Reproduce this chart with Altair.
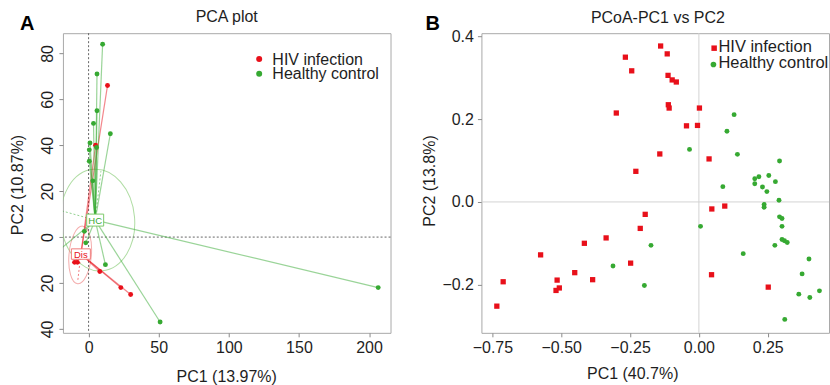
import altair as alt
import pandas as pd

FONT = "Liberation Sans"
RED = "#e8101a"
GREEN = "#36a932"
TXT = "#1e1e1e"
GROUPS = ["HIV infection", "Healthy control"]

# ---------------- Panel A : PCA plot ----------------
title_a = "PCA plot"
letter_a = "A"
xtitle_a = "PC1 (13.97%)"
ytitle_a = "PC2 (10.87%)"
a_xticks = [0, 50, 100, 150, 200]
a_yticks = [-40, -20, 0, 20, 40, 60, 80]

a_hiv_x = [13.5, 5.0, -8.0, -10.0, 8.0, 23.0, 30.0]
a_hiv_y = [66.0, 40.0, -11.0, -11.0, -15.0, -22.0, -25.0]
a_hc_x = [10.0, 6.0, 6.0, 3.5, 15.5, 1.0, 5.7, 0.5, 0.5, 3.0, -3.0, -2.0, 12.0, 51.0, 206.5, -25.0]
a_hc_y = [84.0, 71.0, 55.0, 49.5, 45.0, 41.0, 39.0, 38.0, 33.0, 24.5, 2.5, -2.5, -12.0, -37.0, -22.0, -7.7]

a_cent_label = ["Dis", "HC"]
a_cent_x = [-5.5, 4.7]
a_cent_y = [-7.4, 7.4]

a_ell_x = [-6.0, 6.5]
a_ell_y = [-7.8, 7.4]

a_axis_group = ["HIV infection", "Healthy control", "Healthy control"]
a_axis_x1 = [-5.5, -19.0, 4.7]
a_axis_y1 = [-7.4, 11.4, 7.4]
a_axis_x2 = [-7.8, 4.7, 8.8]
a_axis_y2 = [-19.5, 7.4, 28.7]

# ---------------- Panel B : PCoA ----------------
title_b = "PCoA-PC1 vs PC2"
letter_b = "B"
xtitle_b = "PC1 (40.7%)"
ytitle_b = "PC2 (13.8%)"
b_xticks = [-0.75, -0.5, -0.25, 0.0, 0.25]
b_yticks = [-0.2, 0.0, 0.2, 0.4]

b_hiv_x = [-0.734, -0.711, -0.575, -0.515, -0.519, -0.507, -0.451, -0.416, -0.386, -0.337,
           -0.300, -0.267, -0.244, -0.229, -0.213, -0.195, -0.248, -0.142, -0.139, -0.115,
           -0.112, -0.111, -0.108, -0.097, -0.082, -0.045, -0.005, 0.002, 0.037, 0.047,
           0.094, 0.046, 0.252]
b_hiv_y = [-0.252, -0.193, -0.128, -0.189, -0.214, -0.208, -0.171, -0.100, -0.188, -0.087,
           0.215, 0.350, 0.317, 0.074, -0.064, -0.030, -0.148, 0.116, 0.377, 0.358,
           0.306, 0.235, 0.227, 0.295, 0.290, 0.184, 0.185, 0.227, 0.104, -0.017,
           -0.010, -0.176, -0.206]
b_hc_x = [-0.312, -0.198, -0.174, -0.034, 0.006, 0.087, 0.102, 0.128, 0.140, 0.161,
          0.203, 0.203, 0.218, 0.231, 0.237, 0.237, 0.247, 0.254, 0.278, 0.293,
          0.291, 0.293, 0.302, 0.302, 0.302, 0.311, 0.321, 0.276, 0.363, 0.375,
          0.400, 0.403, 0.438, 0.312]
b_hc_y = [-0.155, -0.202, -0.105, 0.127, -0.059, 0.037, 0.171, 0.211, 0.115, -0.125,
          0.044, 0.056, 0.061, 0.036, -0.006, -0.013, 0.025, 0.064, 0.049, 0.099,
          0.004, -0.036, -0.040, -0.059, -0.091, -0.094, -0.098, -0.105, -0.223, -0.174,
          -0.138, -0.231, -0.215, -0.284]

# ---------------- tables ----------------
pts_a = pd.DataFrame({
    "x": a_hiv_x + a_hc_x,
    "y": a_hiv_y + a_hc_y,
    "group": [GROUPS[0]] * len(a_hiv_x) + [GROUPS[1]] * len(a_hc_x),
})
cent_of = {GROUPS[0]: (a_cent_x[0], a_cent_y[0]), GROUPS[1]: (a_cent_x[1], a_cent_y[1])}
seg_a = pts_a.rename(columns={"x": "x2", "y": "y2"}).copy()
seg_a["x"] = [cent_of[g][0] for g in seg_a["group"]]
seg_a["y"] = [cent_of[g][1] for g in seg_a["group"]]
axes_a = pd.DataFrame({"x": a_axis_x1, "y": a_axis_y1, "x2": a_axis_x2, "y2": a_axis_y2,
                       "group": a_axis_group})
cent_a = pd.DataFrame({"x": a_cent_x, "y": a_cent_y, "label": a_cent_label, "group": GROUPS})
ell_a = pd.DataFrame({"x": a_ell_x, "y": a_ell_y, "group": GROUPS})

pts_b_hiv = pd.DataFrame({"x": b_hiv_x, "y": b_hiv_y})
pts_b_hc = pd.DataFrame({"x": b_hc_x, "y": b_hc_y})

one = pd.DataFrame({"k": [0]})

color = alt.Color("group:N", scale=alt.Scale(domain=GROUPS, range=[RED, GREEN]), legend=None)

# ---------------- panel A ----------------
WA, HA = 328, 300
xs_a = alt.Scale(domain=[-18.3, 215.3], nice=False, zero=False)
ys_a = alt.Scale(domain=[-41.7, 88.8], nice=False, zero=False)
xax_a = alt.Axis(values=a_xticks, title=None, format="d")
yax_a = alt.Axis(values=a_yticks, title=None, labelExpr="abs(datum.value)", labelAngle=270,
                 labelAlign="center", labelBaseline="bottom", labelPadding=3)
XA = alt.X("x:Q", scale=xs_a, axis=xax_a)
YA = alt.Y("y:Q", scale=ys_a, axis=yax_a)


def text_layer(s, x, y, size=16, align="center", angle=0, weight="normal", color=TXT,
               baseline="alphabetic", clip=False):
    return alt.Chart(pd.DataFrame({"t": [s]})).mark_text(
        font=FONT, fontSize=size, align=align, baseline=baseline, angle=angle,
        fontWeight=weight, color=color, clip=clip
    ).encode(x=alt.value(x), y=alt.value(y), text="t:N")


def dot_layer(x, y, col, size, shape="circle"):
    return alt.Chart(one).mark_point(shape=shape, filled=True, size=size, color=col,
                                     opacity=1).encode(x=alt.value(x), y=alt.value(y))


anchor = alt.Chart(one).mark_rule(opacity=0).encode(
    x=alt.value(-62), x2=alt.value(-61), y=alt.value(-32), y2=alt.value(-31))

zero_a = alt.Chart(one).mark_rule(color="#555", strokeDash=[2, 2], strokeWidth=0.9).encode(
    x=alt.X("k:Q", scale=xs_a, axis=xax_a))
zero_a2 = alt.Chart(one).mark_rule(color="#555", strokeDash=[2, 2], strokeWidth=0.9).encode(
    y=alt.Y("k:Q", scale=ys_a, axis=yax_a))

ell_hc = alt.Chart(ell_a[ell_a.group == GROUPS[1]]).mark_point(
    shape="M -0.725 0 A 0.725 1 0 1 0 0.725 0 A 0.725 1 0 1 0 -0.725 0 Z",
    size=10404, filled=False, stroke="#8fcf7e", strokeWidth=1, angle=355, clip=True
).encode(x=XA, y=YA)
ell_dis = alt.Chart(ell_a[ell_a.group == GROUPS[0]]).mark_point(
    shape="M -0.386 0 A 0.386 1 0 1 0 0.386 0 A 0.386 1 0 1 0 -0.386 0 Z",
    size=3364, filled=False, stroke="#f08a8a", strokeWidth=1, angle=5, clip=True
).encode(x=XA, y=YA)

axes_l = alt.Chart(axes_a).mark_rule(strokeDash=[2, 2], strokeWidth=1, opacity=0.55, clip=True).encode(
    x=XA, y=YA, x2="x2:Q", y2="y2:Q", color=color)

segs = alt.Chart(seg_a).mark_rule(strokeWidth=1.2, opacity=0.5, clip=True).encode(
    x=XA, y=YA, x2="x2:Q", y2="y2:Q", color=color)

pts = alt.Chart(pts_a).mark_circle(size=24, opacity=1, clip=True).encode(x=XA, y=YA, color=color)

box_hc = alt.Chart(cent_a[cent_a.group == GROUPS[1]]).mark_point(
    shape="M -1 -0.706 H 1 V 0.706 H -1 Z", size=289, filled=True, fill="white",
    stroke="#7cc96a", strokeWidth=1, opacity=1).encode(x=XA, y=YA)
box_dis = alt.Chart(cent_a[cent_a.group == GROUPS[0]]).mark_point(
    shape="M -1 -0.55 H 1 V 0.55 H -1 Z", size=361, filled=True, fill="white",
    stroke="#f07a7a", strokeWidth=1, opacity=1).encode(x=XA, y=YA)
lab = alt.Chart(cent_a).mark_text(font=FONT, fontSize=9.5, baseline="middle", dy=0.5).encode(
    x=XA, y=YA, text="label:N", color=color)

panel_a = alt.layer(
    anchor, ell_hc, ell_dis, zero_a, zero_a2, axes_l, segs, pts, box_hc, box_dis, lab,
    dot_layer(196.5, 25.8, RED, 36),
    dot_layer(196.5, 40.5, GREEN, 36),
    text_layer(GROUPS[0], 209.7, 31.4, align="left"),
    text_layer(GROUPS[1], 209.7, 46.1, align="left"),
    text_layer(title_a, WA / 2, -11),
    text_layer(letter_a, -43, -3, size=20, align="left", weight="bold", color="#000"),
    text_layer(xtitle_a, WA / 2, 349),
    text_layer(ytitle_a, -40, 152, angle=270),
).properties(width=WA, height=HA)

# ---------------- panel B ----------------
WB, HB = 348, 300
xs_b = alt.Scale(domain=[-0.79, 0.4727], nice=False, zero=False)
ys_b = alt.Scale(domain=[-0.3165, 0.408], nice=False, zero=False)
xax_b = alt.Axis(values=b_xticks, title=None, format=".2f")
yax_b = alt.Axis(values=b_yticks, title=None, format=".1f", labelPadding=4)
XB = alt.X("x:Q", scale=xs_b, axis=xax_b)
YB = alt.Y("y:Q", scale=ys_b, axis=yax_b)

zero_b = alt.Chart(one).mark_rule(color="#d4d4d4", strokeWidth=1).encode(
    x=alt.X("k:Q", scale=xs_b, axis=xax_b))
zero_b2 = alt.Chart(one).mark_rule(color="#d4d4d4", strokeWidth=1).encode(
    y=alt.Y("k:Q", scale=ys_b, axis=yax_b))
hiv_b = alt.Chart(pts_b_hiv).mark_point(shape="square", filled=True, size=28, color=RED,
                                        opacity=1).encode(x=XB, y=YB)
hc_b = alt.Chart(pts_b_hc).mark_point(shape="circle", filled=True, size=24, color=GREEN,
                                      opacity=1).encode(x=XB, y=YB)

panel_b = alt.layer(
    zero_b, zero_b2, hiv_b, hc_b,
    dot_layer(233, 15, RED, 30, "square"),
    dot_layer(232.3, 31.3, GREEN, 32),
    text_layer(GROUPS[0], 237.3, 19, size=16.5, align="left", clip=True),
    text_layer(GROUPS[1], 237.3, 35.3, size=16.5, align="left", clip=True),
    text_layer(title_b, 176.7, -10),
    text_layer(letter_b, -56, -3, size=20, align="left", weight="bold", color="#000"),
    text_layer(xtitle_b, 151.5, 346),
    text_layer(ytitle_b, -46, 148, angle=270),
).properties(width=WB, height=HB)

chart = alt.hconcat(panel_a, panel_b, spacing=91, bounds="flush").properties(
    padding={"left": 0, "top": 0, "right": 0, "bottom": 0}
).configure_view(stroke="#a9a9a9", strokeWidth=1).configure_axis(
    labelFont=FONT, labelFontSize=16, labelColor=TXT, tickColor="#8a8a8a", tickSize=4,
    domain=False, grid=False, labelPadding=3
)

chart.save("out.html", embed_options={"renderer": "svg", "actions": False})
